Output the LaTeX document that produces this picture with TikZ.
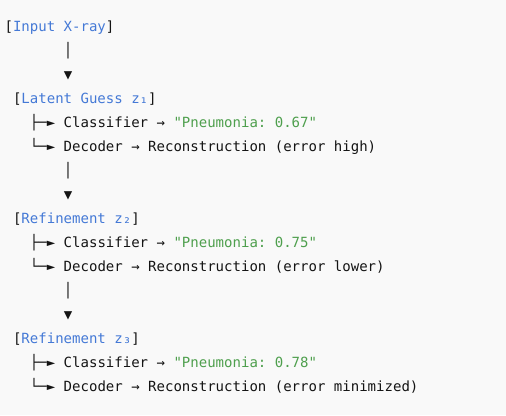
\documentclass[tikz,border=0pt]{standalone}
\usepackage{fontspec}
\setmonofont{DejaVu Sans Mono}
\definecolor{bgc}{HTML}{F9F9F9}
\definecolor{ink}{HTML}{141414}
\definecolor{lblue}{HTML}{4479D6}
\definecolor{lgreen}{HTML}{4E9F4D}
\newcommand{\cw}{8.45}
\newcommand{\lh}{24.0}
\newcommand{\tline}[4]{\node[codeline] (#1) at ({4.6+#3*\cw},{31+#2*\lh}) {#4};}
\newcommand{\bl}[1]{[\textcolor{lblue}{#1}]}
\newcommand{\gr}[1]{\textcolor{lgreen}{#1}}
\begin{document}
\begin{tikzpicture}[x=1bp,y=-1bp,
  codeline/.style={anchor=base west, inner sep=0pt, outer sep=0pt,
    font=\ttfamily\fontsize{14.08}{16}\selectfont, text=ink}]
\fill[bgc] (0,0) rectangle (506,415);
\tline{l0}{0}{0}{\bl{Input X-ray}}
\tline{v1}{1}{7}{│}
\tline{a1}{2}{7}{▼}
\tline{l3}{3}{1}{\bl{Latent Guess z₁}}
\tline{c1}{4}{3}{├─► Classifier → \gr{"Pneumonia: 0.67"}}
\tline{d1}{5}{3}{└─► Decoder → Reconstruction (error high)}
\tline{v2}{6}{7}{│}
\tline{a2}{7}{7}{▼}
\tline{l8}{8}{1}{\bl{Refinement z₂}}
\tline{c2}{9}{3}{├─► Classifier → \gr{"Pneumonia: 0.75"}}
\tline{d2}{10}{3}{└─► Decoder → Reconstruction (error lower)}
\tline{v3}{11}{7}{│}
\tline{a3}{12}{7}{▼}
\tline{l13}{13}{1}{\bl{Refinement z₃}}
\tline{c3}{14}{3}{├─► Classifier → \gr{"Pneumonia: 0.78"}}
\tline{d3}{15}{3}{└─► Decoder → Reconstruction (error minimized)}
\end{tikzpicture}
\end{document}
